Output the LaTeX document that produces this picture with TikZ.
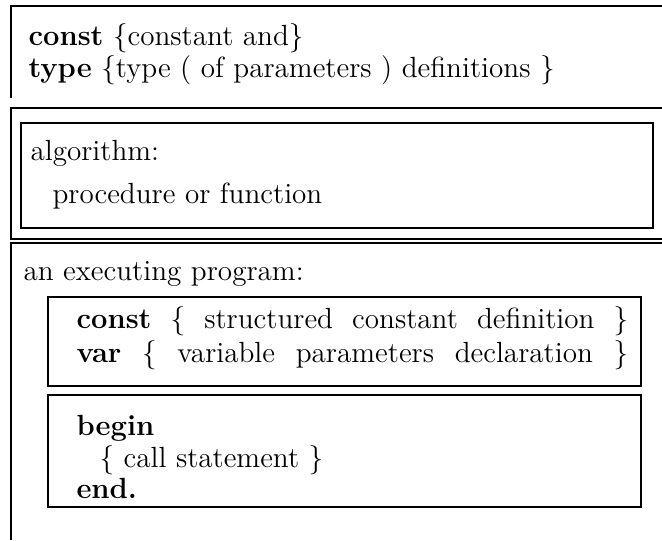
\documentclass[tikz,border=0pt]{standalone}
\begin{document}
\begin{tikzpicture}[x=0.377pt, y=-0.377pt]

\tikzset{myline/.style={draw=black, line width=0.7pt}}
\tikzset{mytext/.style={anchor=base west, inner sep=0pt, text=black, font=\fontsize{11}{13}\selectfont}}

\useasboundingbox (0,0) rectangle (662,540);

% declarations
\draw[myline] (662,6) -- (11,6) -- (11,98);
\node[mytext] (constA) at (28,45) {\textbf{const} \{constant and\}};
\node[mytext] (typeA) at (28,77) {\textbf{type} \{type ( of parameters ) definitions \}};

% algorithm
\draw[myline] (662,108) -- (11,108) -- (11,239) -- (662,239);
\draw[myline] (21,123) rectangle (653,228);
\node[mytext] (algo) at (30,160) {algorithm:};
\node[mytext] (proc) at (52,203) {procedure or function};

% executing program
\draw[myline] (662,243) -- (11,243) -- (11,540);
\node[mytext] (exec) at (23,280) {an executing program:};
\draw[myline] (48,297) rectangle (641,386);
\node[mytext] (constB) at (76,328) {\makebox[208pt][s]{\textbf{const} \{ structured constant definition \}}};
\node[mytext] (varB) at (76,362) {\makebox[208pt][s]{\textbf{var} \{ variable parameters declaration \}}};
\draw[myline] (48,395) rectangle (641,507);
\node[mytext] (beginB) at (76,435) {\textbf{begin}};
\node[mytext] (callB) at (99,467) {\{ call statement \}};
\node[mytext] (endB) at (76,498) {\textbf{end.}};

\end{tikzpicture}
\end{document}
